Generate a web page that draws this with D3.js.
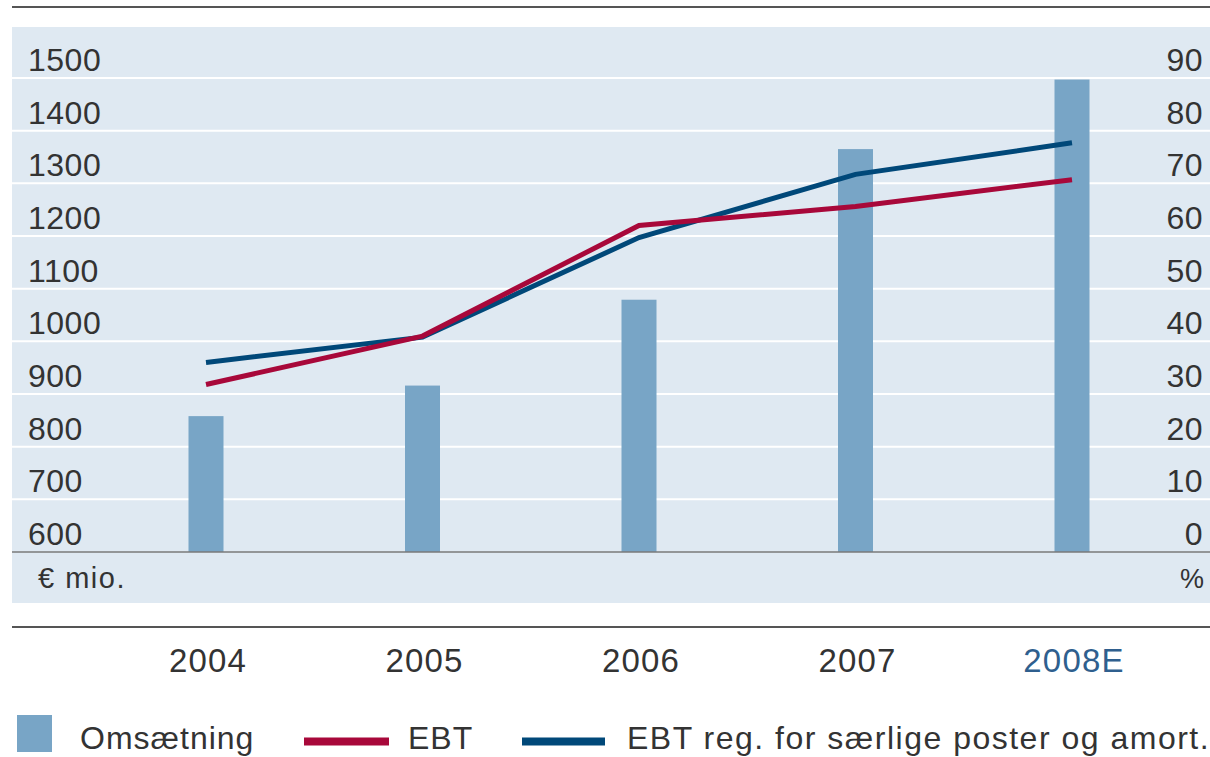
<!DOCTYPE html>
<html>
<head>
<meta charset="utf-8">
<script src="https://cdn.jsdelivr.net/npm/d3@7"></script>
<style>
  body { margin: 0; background: #fff; }
  svg text { font-family: "Liberation Sans", Arial, sans-serif; fill: #333; }
</style>
</head>
<body>
<div class="chart"></div>
<script>
// data
const years = ['2004', '2005', '2006', '2007', '2008E'];
const omsaetning = [858, 916, 1079, 1365, 1497];          // € mio., left axis
const ebt = [31.8, 41.0, 62.0, 65.6, 70.7];               // %, right axis
const ebtReg = [36.0, 40.8, 59.7, 71.7, 77.7];            // %, right axis
const leftTicks = [600, 700, 800, 900, 1000, 1100, 1200, 1300, 1400, 1500];
const rightTicks = [0, 10, 20, 30, 40, 50, 60, 70, 80, 90];

const width = 1210, height = 757;
const panelLeft = 12, panelRight = 1210, panelTop = 27, panelBottom = 603;
const barWidth = 35;

const svg = d3.select('.chart')
  .append('svg')
  .attr('width', width)
  .attr('height', height);

let x = d3.scalePoint()
  .domain(years)
  .range([206, 1072]);

let yLeft = d3.scaleLinear()
  .domain([600, 1500])
  .range([552, 78]);

let yRight = d3.scaleLinear()
  .domain([0, 90])
  .range([552, 78]);

// top rule
svg.append('line')
  .attr('x1', panelLeft).attr('x2', panelRight)
  .attr('y1', 7).attr('y2', 7)
  .attr('stroke', '#555').attr('stroke-width', 2);

// panel
svg.append('rect')
  .attr('x', panelLeft).attr('y', panelTop)
  .attr('width', panelRight - panelLeft)
  .attr('height', panelBottom - panelTop)
  .attr('fill', '#dfe9f2');

// gridlines
svg.selectAll('.grid')
  .data(leftTicks.slice(1))
  .enter()
  .append('line')
  .attr('class', 'grid')
  .attr('x1', panelLeft).attr('x2', panelRight)
  .attr('y1', d => yLeft(d)).attr('y2', d => yLeft(d))
  .attr('stroke', '#fff').attr('stroke-width', 2);

// bars
svg.selectAll('.bar')
  .data(omsaetning)
  .enter()
  .append('rect')
  .attr('class', 'bar')
  .attr('x', (d, i) => x(years[i]) - barWidth / 2)
  .attr('width', barWidth)
  .attr('y', d => yLeft(d))
  .attr('height', d => yLeft(600) - yLeft(d))
  .attr('fill', '#78a5c6');

// baseline
svg.append('line')
  .attr('x1', panelLeft).attr('x2', panelRight)
  .attr('y1', yLeft(600)).attr('y2', yLeft(600))
  .attr('stroke', '#7a7a7a').attr('stroke-width', 1.5);

// lines
let line = d3.line()
  .x((d, i) => x(years[i]))
  .y(d => yRight(d));

svg.append('path')
  .datum(ebtReg)
  .attr('d', line)
  .attr('fill', 'none')
  .attr('stroke', '#004879')
  .attr('stroke-width', 5);

svg.append('path')
  .datum(ebt)
  .attr('d', line)
  .attr('fill', 'none')
  .attr('stroke', '#a8083a')
  .attr('stroke-width', 5);

// left tick labels
svg.selectAll('.ltick')
  .data(leftTicks)
  .enter()
  .append('text')
  .attr('class', 'ltick')
  .attr('x', 28)
  .attr('y', d => yLeft(d) - 7)
  .style('font-size', '32px')
  .style('letter-spacing', '0.5px')
  .text(d => d);

// right tick labels
svg.selectAll('.rtick')
  .data(rightTicks)
  .enter()
  .append('text')
  .attr('class', 'rtick')
  .attr('x', 1203)
  .attr('y', d => yRight(d) - 7)
  .attr('text-anchor', 'end')
  .style('font-size', '32px')
  .style('letter-spacing', '0.5px')
  .text(d => d);

// units
svg.append('text')
  .attr('x', 38).attr('y', 588)
  .style('font-size', '29px')
  .style('letter-spacing', '1.5px')
  .text('€ mio.');

svg.append('text')
  .attr('x', 1204).attr('y', 588)
  .attr('text-anchor', 'end')
  .style('font-size', '27px')
  .text('%');

// lower rule
svg.append('line')
  .attr('x1', panelLeft).attr('x2', panelRight)
  .attr('y1', 627).attr('y2', 627)
  .attr('stroke', '#555').attr('stroke-width', 2);

// year labels
svg.selectAll('.year')
  .data(years)
  .enter()
  .append('text')
  .attr('class', 'year')
  .attr('x', d => x(d) + 2)
  .attr('y', 672)
  .attr('text-anchor', 'middle')
  .style('font-size', '33px')
  .style('letter-spacing', '1.2px')
  .style('fill', d => d === '2008E' ? '#2f5f8e' : '#333')
  .text(d => d);

// legend
let legend = svg.append('g');

legend.append('rect')
  .attr('x', 17).attr('y', 715)
  .attr('width', 35).attr('height', 37)
  .attr('fill', '#78a5c6');

legend.append('text')
  .attr('x', 80).attr('y', 749)
  .style('font-size', '32px')
  .style('letter-spacing', '1px')
  .text('Omsætning');

legend.append('line')
  .attr('x1', 304).attr('x2', 389)
  .attr('y1', 741.5).attr('y2', 741.5)
  .attr('stroke', '#a8083a').attr('stroke-width', 8);

legend.append('text')
  .attr('x', 408).attr('y', 749)
  .style('font-size', '32px')
  .style('letter-spacing', '1px')
  .text('EBT');

legend.append('line')
  .attr('x1', 522).attr('x2', 605)
  .attr('y1', 741.5).attr('y2', 741.5)
  .attr('stroke', '#004879').attr('stroke-width', 8);

legend.append('text')
  .attr('x', 627).attr('y', 749)
  .style('font-size', '32px')
  .style('letter-spacing', '1.5px')
  .text('EBT reg. for særlige poster og amort.');
</script>
</body>
</html>
